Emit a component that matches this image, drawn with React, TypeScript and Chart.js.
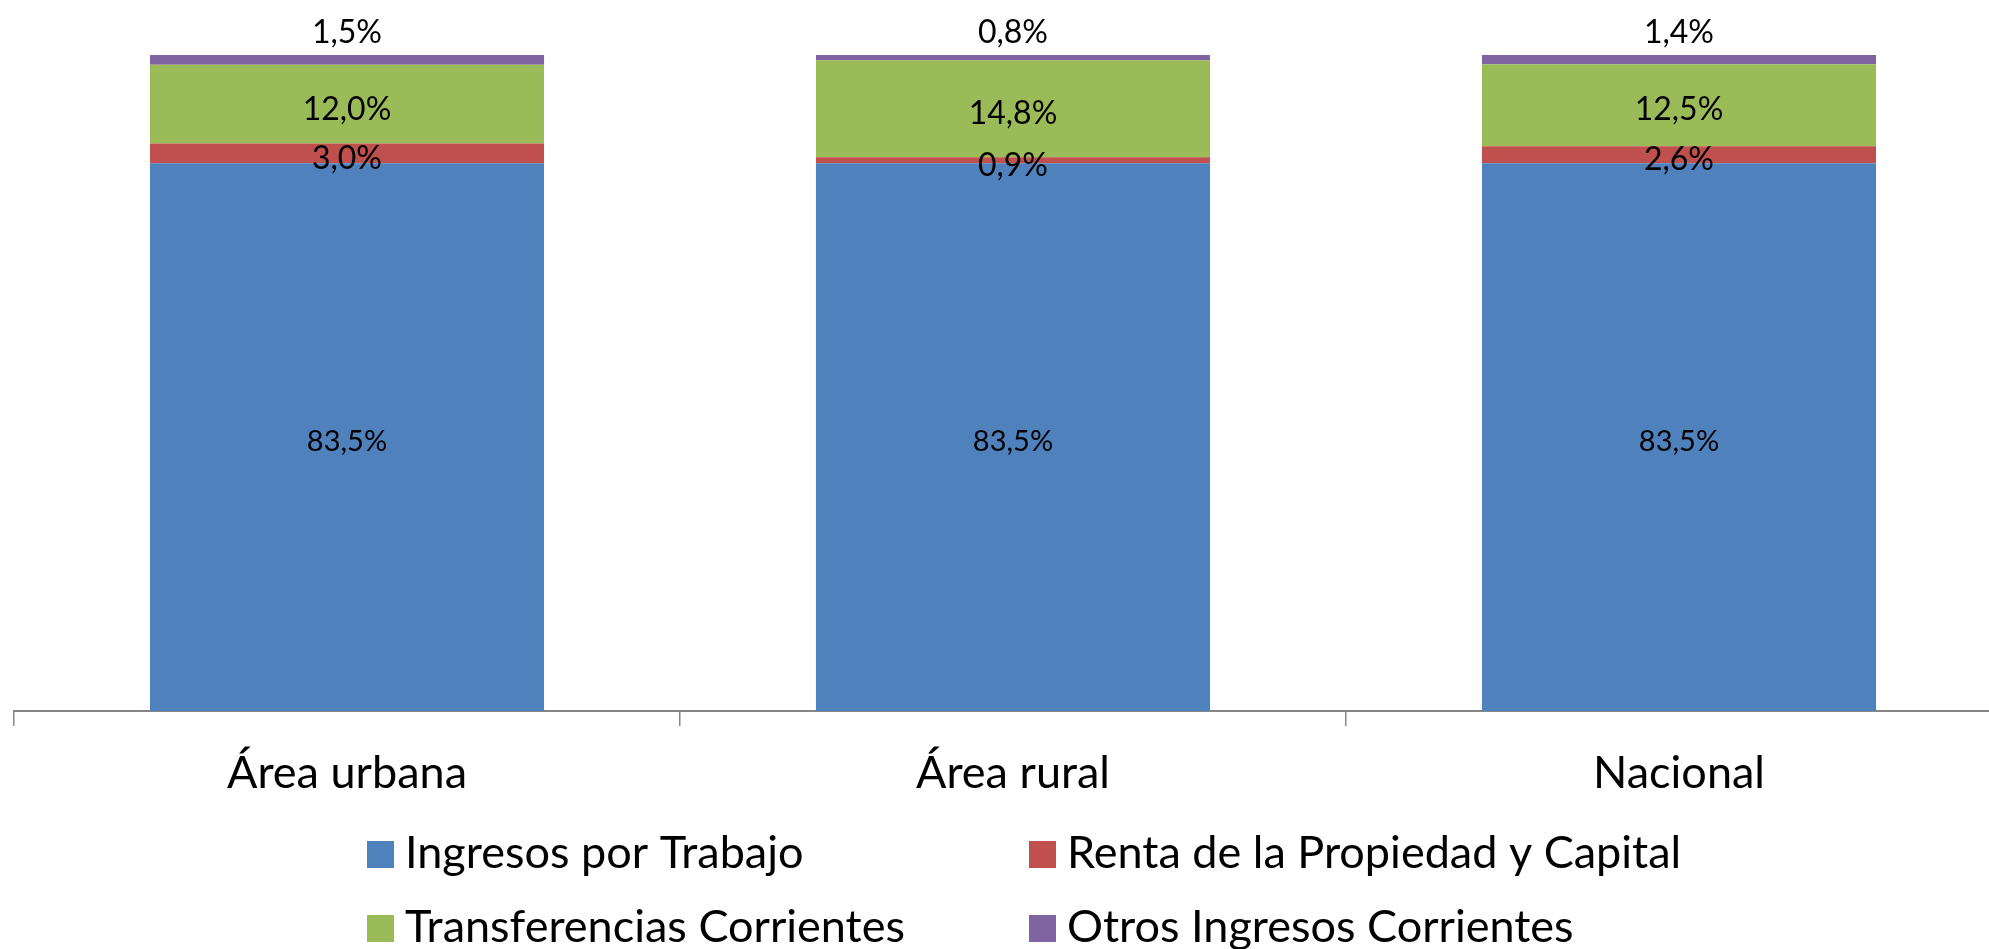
import React, { useEffect, useRef } from "react";
import { Chart, registerables } from "chart.js";

Chart.register(...registerables);

const categories = ["Área urbana", "Área rural", "Nacional"];
const seriesNames = [
  "Ingresos por Trabajo",
  "Renta de la Propiedad y Capital",
  "Transferencias Corrientes",
  "Otros Ingresos Corrientes",
];
const ingresosTrabajo = [83.5, 83.5, 83.5];
const rentaPropiedad = [3.0, 0.9, 2.6];
const transferencias = [12.0, 14.8, 12.5];
const otrosIngresos = [1.5, 0.8, 1.4];
const seriesColors = ["#4F81BD", "#C0504D", "#9BBB59", "#8064A2"];

const FONT = "Lato, 'Open Sans', sans-serif";

const fmt = (v: number) => v.toFixed(1).replace(".", ",") + "%";

const overlayPlugin = {
  id: "overlayText",
  afterDatasetsDraw(chart: any) {
    const ctx = chart.ctx;
    ctx.save();
    ctx.fillStyle = "#000000";
    ctx.textAlign = "center";
    ctx.textBaseline = "middle";
    const last = chart.data.datasets.length - 1;
    chart.data.datasets.forEach((ds: any, di: number) => {
      const meta = chart.getDatasetMeta(di);
      meta.data.forEach((el: any, i: number) => {
        const p = el.getProps(["x", "y", "base"], true);
        let cy = (p.y + p.base) / 2 + 5;
        if (di === last) cy = p.y - 22;
        ctx.font = (di === 0 ? "29px " : "32px ") + FONT;
        ctx.fillText(fmt(ds.data[i]), p.x, cy);
      });
    });

    // category labels
    const xs = chart.scales.x;
    ctx.font = "45px " + FONT;
    ctx.textBaseline = "alphabetic";
    categories.forEach((c, i) => {
      ctx.fillText(c, xs.getPixelForValue(i), 788);
    });

    // legend (2 x 2)
    const colX = [367, 1029];
    const rowTop = [841, 915];
    const box = 27;
    ctx.textAlign = "left";
    chart.data.datasets.forEach((ds: any, di: number) => {
      const cx = colX[di % 2];
      const ty = rowTop[Math.floor(di / 2)];
      ctx.fillStyle = ds.backgroundColor;
      ctx.fillRect(cx, ty, box, box);
      ctx.fillStyle = "#000000";
      ctx.fillText(ds.label, cx + box + 11, ty + box);
    });
    ctx.restore();
  },
};

export default function App() {
  const canvasRef = useRef<HTMLCanvasElement | null>(null);

  useEffect(() => {
    const canvas = canvasRef.current;
    if (!canvas) return;
    const seriesValues = [ingresosTrabajo, rentaPropiedad, transferencias, otrosIngresos];
    const chart = new Chart(canvas, {
      type: "bar",
      data: {
        labels: categories,
        datasets: seriesNames.map((name, k) => ({
          label: name,
          data: seriesValues[k],
          backgroundColor: seriesColors[k],
          borderWidth: 0,
          barPercentage: 0.5917,
          categoryPercentage: 1,
        })),
      },
      options: {
        responsive: false,
        animation: false,
        devicePixelRatio: 1,
        layout: { padding: { top: 55, left: 14, right: 8, bottom: 0 } },
        plugins: {
          legend: { display: false },
          tooltip: { enabled: false },
          title: { display: false },
        },
        scales: {
          x: {
            stacked: true,
            offset: true,
            grid: {
              display: true,
              offset: true,
              drawOnChartArea: false,
              drawTicks: true,
              tickLength: 15,
              color: "#868686",
              lineWidth: 1.5,
            },
            border: { display: true, color: "#868686", width: 2 },
            ticks: { display: false },
            afterFit: (scale: any) => {
              scale.height = 238;
            },
          },
          y: {
            stacked: true,
            display: false,
            min: 0,
            max: 100,
          },
        },
      },
      plugins: [overlayPlugin],
    } as any);
    return () => chart.destroy();
  }, []);

  return (
    <div
      style={{
        position: "fixed",
        left: 0,
        top: 0,
        width: 1989,
        height: 949,
        overflow: "hidden",
        background: "#ffffff",
      }}
    >
      <canvas
        ref={canvasRef}
        width={2020}
        height={949}
        style={{ width: 2020, height: 949, display: "block" }}
      />
    </div>
  );
}
